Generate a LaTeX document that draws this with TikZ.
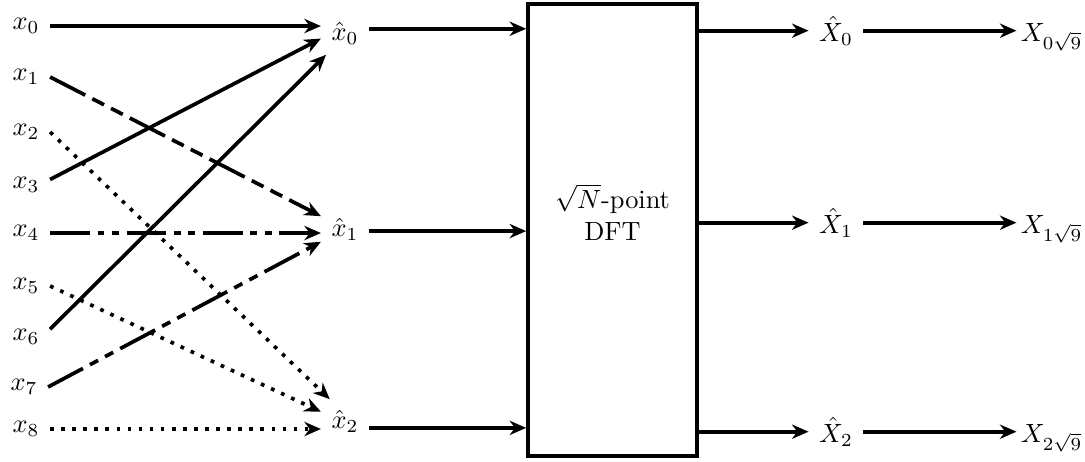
\documentclass[tikz,border=0pt]{standalone}
\usepackage{amsmath}
\usetikzlibrary{arrows.meta,positioning}

\begin{document}
\begin{tikzpicture}[line width=1.4pt,>={Stealth[length=2.2mm,width=1.9mm,inset=0.7mm]},
  lcc/.style={dash pattern=on 15pt off 3pt on #1 off 3pt on #1 off 3pt},
  pts/.style={dash pattern=on 1.4pt off 2.8pt}]
  \useasboundingbox (0,0) rectangle (14.467,-6.147);
  % entradas x_i
  \foreach \i/\x/\y in {0/0.347/0.347,1/0.347/1.027,2/0.347/1.76,3/0.347/2.467,4/0.347/3.107,
                        5/0.347/3.813,6/0.347/4.493,7/0.32/5.16,8/0.347/5.72}
    \node (x\i) at (\x,-\y) {$x_\i$};
  % muestras agrupadas
  \node (xh0) at (4.6,-0.44) {$\hat{x}_0$};
  \node (xh1) at (4.6,-3.053) {$\hat{x}_1$};
  \node (xh2) at (4.6,-5.613) {$\hat{x}_2$};
  % grupo 0: continuas
  \draw[->] (x0.east) -- (x0.east -| xh0.west);
  \draw[->] (x3.13) -- (xh0.193);
  \draw[->] (x6.18) -- (xh0.229);
  % grupo 1: raya punto punto
  \draw[->,lcc=5pt] (x1.east) -- (xh1.152);
  \draw[->,lcc=2.5pt] (x4.east) -- (x4.east -| xh1.west);
  \draw[->,lcc=3.5pt] (x7.east) -- (xh1.208);
  % grupo 2: punteadas
  \draw[->,pts] (x2.east) -- (xh2.125);
  \draw[->,pts] (x5.east) -- (xh2.159);
  \draw[->,pts] (x8.east) -- (x8.east -| xh2.west);
  % bloque DFT
  \node[draw,minimum width=2.253cm,minimum height=6.03cm,inner sep=0pt] (dft) at (8.167,-3.065) {};
  \node[align=center] (dftlbl) at (8.167,-2.827) {$\sqrt{N}$-point\\DFT};
  \draw[->] (xh0.10) -- (xh0.10 -| dft.west);
  \draw[->] (xh1.-5) -- (xh1.-5 -| dft.west);
  \draw[->] (xh2.-16) -- (xh2.-16 -| dft.west);
  % salidas
  \foreach \i/\y in {0/0.409,1/2.969,2/5.756} {
    \node (Xh\i) at (11.147,-\y) {$\hat{X}_\i$};
    \node[base right=2.04cm of Xh\i,inner sep=1pt] (X\i) {$X_{\i\sqrt{9}}$};
    \draw[->] (dft.east |- Xh\i) -- (Xh\i);
    \draw[->] (Xh\i.east) -- (Xh\i.east -| X\i.west);
  }
\end{tikzpicture}
\end{document}
